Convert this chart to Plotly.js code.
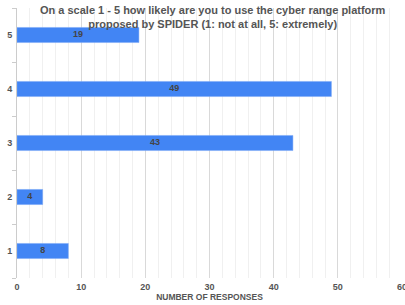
<!DOCTYPE html>
<html>
<head>
<meta charset="utf-8">
<script src="https://cdn.plot.ly/plotly-3.0.1.min.js"></script>
<style>html,body{margin:0;padding:0;background:#fff}#chart{width:405px;height:305px}</style>
</head>
<body>
<div id="chart"></div>
<script>
var categories = ['1', '2', '3', '4', '5'];
var responses = [8, 4, 43, 49, 19];
var xTicks = [0, 10, 20, 30, 40, 50, 60];
var titleText = 'On a scale 1 - 5 how likely are you to use the cyber range platform<br>proposed by SPIDER (1: not at all, 5: extremely)';

var FONT = 'Liberation Sans, Arial, sans-serif';

var bars = {
  type: 'bar',
  orientation: 'h',
  y: categories,
  x: responses,
  textposition: 'none',
  marker: {color: '#4285F4', line: {color: '#7aa7f7', width: 0.5}},
  hoverinfo: 'none'
};

var labels = {
  type: 'scatter',
  mode: 'text',
  y: categories,
  x: responses.map(function (v) { return v / 2; }),
  text: responses.map(String),
  textposition: 'middle center',
  textfont: {family: FONT, size: 9, color: '#444', weight: 'bold'},
  hoverinfo: 'none',
  cliponaxis: false
};

var layout = {
  width: 405, height: 305,
  margin: {l: 17, r: 3, t: 8, b: 27},
  paper_bgcolor: '#fff', plot_bgcolor: '#fff',
  bargap: 0.72,
  showlegend: false,
  font: {family: FONT, color: '#555'},
  annotations: [{
    text: titleText,
    xref: 'paper', yref: 'paper',
    x: 0.51, y: 0.967, xanchor: 'center', yanchor: 'middle',
    showarrow: false,
    font: {family: FONT, size: 11, color: '#555', weight: 'bold'}
  }],
  xaxis: {
    range: [0, 60],
    tickvals: xTicks,
    ticktext: xTicks.map(String),
    ticklabeloverflow: 'allow',
    showgrid: true, gridcolor: '#d9d9d9', gridwidth: 1,
    minor: {dtick: 2, showgrid: true, gridcolor: '#f0f0f0', gridwidth: 1},
    zeroline: false, showline: false, ticks: '',
    tickfont: {size: 9, color: '#555', weight: 'bold'},
    ticklabelstandoff: 2,
    title: {text: 'NUMBER OF RESPONSES', font: {size: 8.5, color: '#555', weight: 'bold'}, standoff: 2}
  },
  yaxis: {
    type: 'category',
    categoryorder: 'array', categoryarray: categories,
    tickson: 'boundaries',
    ticks: 'outside', ticklen: 4, tickcolor: '#ccc', tickwidth: 1,
    showgrid: false, zeroline: false,
    showline: true, linecolor: '#ccc', linewidth: 1,
    tickfont: {size: 9, color: '#555', weight: 'bold'},
    ticklabelstandoff: 2
  }
};

Plotly.newPlot('chart', [bars, labels], layout, {staticPlot: true, displayModeBar: false});
</script>
</body>
</html>
